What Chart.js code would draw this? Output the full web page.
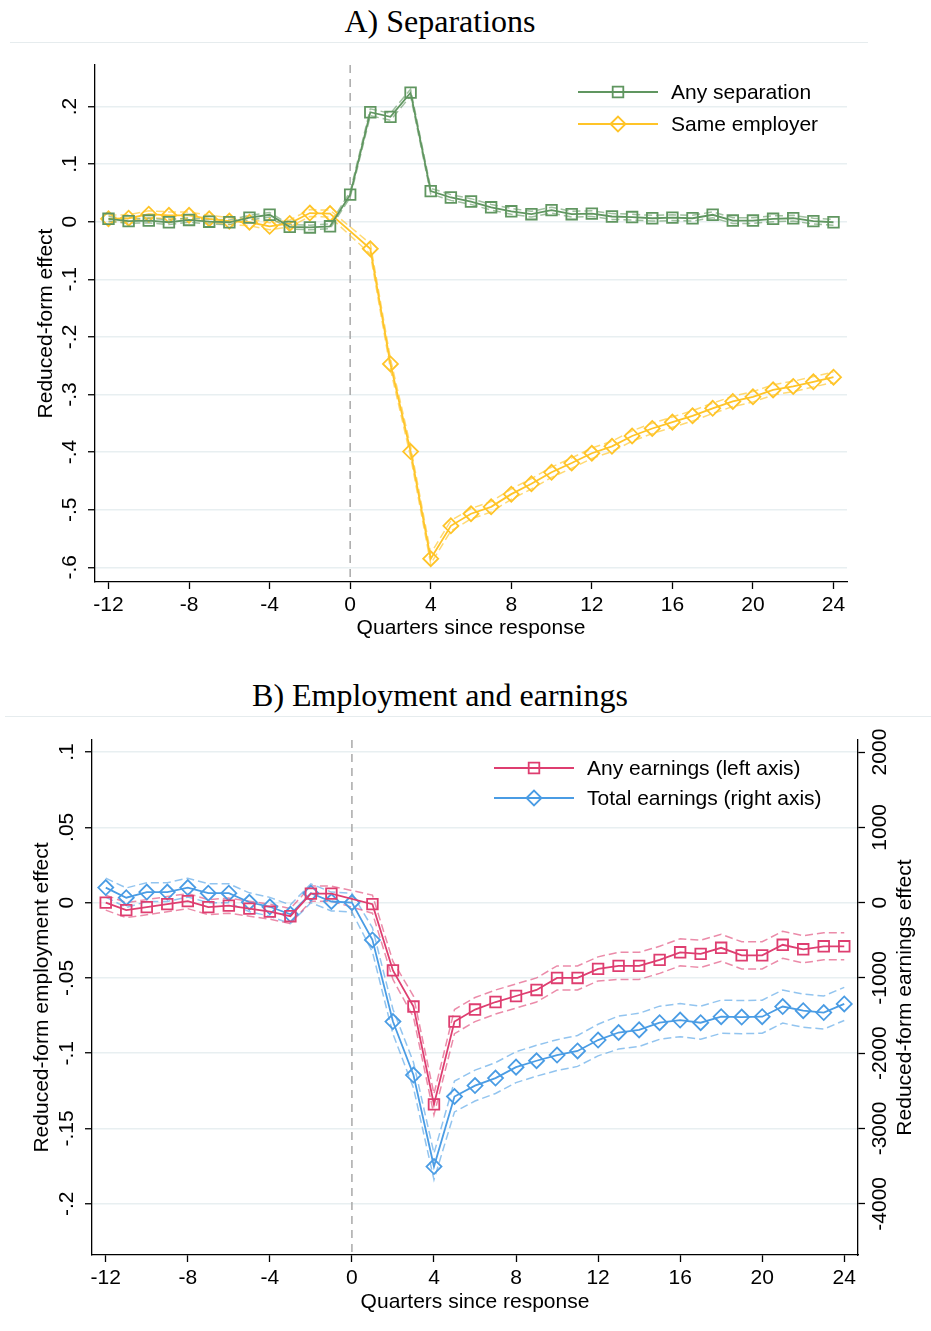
<!DOCTYPE html>
<html>
<head>
<meta charset="utf-8">
<script src="https://cdn.jsdelivr.net/npm/chart.js@4.4.1/dist/chart.umd.min.js"></script>
<style>
  body { margin: 0; background: #fff; width: 931px; height: 1331px; position: relative; overflow: hidden; }
  .ttl { position: absolute; left: 0; width: 880px; text-align: center; font-family: "Liberation Serif", "DejaVu Serif", serif; font-size: 32px; line-height: 36px; color: #000; }
  .rule { position: absolute; height: 0; border-top: 1px solid #e6ecee; }
  canvas { position: absolute; left: 0; }
</style>
</head>
<body>
<div class="ttl" style="top:3px">A) Separations</div>
<div class="rule" style="top:42px;left:10px;width:858px"></div>
<canvas id="sep" width="931" height="650" style="top:0"></canvas>

<div class="ttl" style="top:677px">B) Employment and earnings</div>
<div class="rule" style="top:716px;left:5px;width:926px"></div>
<canvas id="emp" width="931" height="671" style="top:660px"></canvas>

<script>
// quarters relative to the response
const quarters = [-12,-11,-10,-9,-8,-7,-6,-5,-4,-3,-2,-1,0,1,2,3,4,5,6,7,8,9,10,11,12,13,14,15,16,17,18,19,20,21,22,23,24];
const xTicks = [-12,-8,-4,0,4,8,12,16,20,24];

// panel A
const sepTicks = [0.2,0.1,0,-0.1,-0.2,-0.3,-0.4,-0.5,-0.6];
const sepTickLabels = ['.2','.1','0','-.1','-.2','-.3','-.4','-.5','-.6'];

const anySep   = [0.005,0.001,0.002,-0.001,0.003,0.000,-0.001,0.007,0.012,-0.009,-0.010,-0.008,0.047,0.190,0.182,0.224,0.053,0.042,0.035,0.025,0.018,0.013,0.020,0.013,0.014,0.009,0.008,0.006,0.007,0.006,0.012,0.002,0.002,0.005,0.006,0.001,-0.001];
const anySepLo = [0.001,-0.003,-0.002,-0.005,-0.001,-0.004,-0.005,0.003,0.008,-0.013,-0.014,-0.012,0.042,0.184,0.176,0.218,0.048,0.037,0.030,0.020,0.013,0.008,0.015,0.008,0.009,0.004,0.003,0.001,0.002,0.001,0.007,-0.003,-0.003,0.000,0.001,-0.004,-0.006];
const anySepHi = [0.009,0.005,0.006,0.003,0.007,0.004,0.003,0.011,0.016,-0.005,-0.006,-0.004,0.052,0.196,0.188,0.230,0.058,0.047,0.040,0.030,0.023,0.018,0.025,0.018,0.019,0.014,0.013,0.011,0.012,0.011,0.017,0.007,0.007,0.010,0.011,0.006,0.004];

const sameEmp   = [0.005,0.006,0.013,0.011,0.011,0.005,0.001,-0.001,-0.008,-0.003,0.015,0.014,null,-0.047,-0.247,-0.399,-0.585,-0.528,-0.507,-0.495,-0.473,-0.455,-0.435,-0.419,-0.402,-0.390,-0.372,-0.359,-0.348,-0.337,-0.324,-0.312,-0.304,-0.292,-0.286,-0.278,-0.270];
const sameEmpLo = [-0.001,0.000,0.007,0.005,0.005,-0.001,-0.005,-0.007,-0.014,-0.009,0.009,0.008,null,-0.056,-0.256,-0.408,-0.594,-0.537,-0.516,-0.504,-0.482,-0.464,-0.444,-0.428,-0.411,-0.399,-0.381,-0.368,-0.357,-0.346,-0.333,-0.321,-0.313,-0.301,-0.295,-0.287,-0.279];
const sameEmpHi = [0.011,0.012,0.019,0.017,0.017,0.011,0.007,0.005,-0.002,0.003,0.021,0.020,null,-0.038,-0.238,-0.390,-0.576,-0.519,-0.498,-0.486,-0.464,-0.446,-0.426,-0.410,-0.393,-0.381,-0.363,-0.350,-0.339,-0.328,-0.315,-0.303,-0.295,-0.283,-0.277,-0.269,-0.261];

// panel B
const empTicks = [0.1,0.05,0,-0.05,-0.1,-0.15,-0.2];
const empTickLabels = ['.1','.05','0','-.05','-.1','-.15','-.2'];
const earnTicks = [2000,1000,0,-1000,-2000,-3000,-4000];
const earnTickLabels = ['2000','1000','0','-1000','-2000','-3000','-4000'];

const anyEarn   = [0.000,-0.005,-0.003,-0.001,0.001,-0.003,-0.002,-0.004,-0.006,-0.009,0.006,0.006,null,-0.001,-0.045,-0.069,-0.134,-0.079,-0.071,-0.066,-0.062,-0.058,-0.050,-0.050,-0.044,-0.042,-0.042,-0.038,-0.033,-0.034,-0.030,-0.035,-0.035,-0.028,-0.031,-0.029,-0.029];
const anyEarnLo = [-0.005,-0.010,-0.008,-0.006,-0.004,-0.008,-0.007,-0.009,-0.011,-0.014,0.001,0.001,null,-0.007,-0.051,-0.076,-0.141,-0.087,-0.079,-0.074,-0.070,-0.066,-0.058,-0.058,-0.052,-0.051,-0.051,-0.047,-0.042,-0.043,-0.039,-0.044,-0.044,-0.037,-0.040,-0.038,-0.038];
const anyEarnHi = [0.005,0.000,0.002,0.004,0.006,0.002,0.003,0.001,-0.001,-0.004,0.011,0.011,null,0.005,-0.039,-0.062,-0.127,-0.071,-0.063,-0.058,-0.054,-0.050,-0.042,-0.042,-0.036,-0.033,-0.033,-0.029,-0.024,-0.025,-0.021,-0.026,-0.026,-0.019,-0.022,-0.020,-0.020];

const totEarn   = [200,65,140,140,200,125,125,5,-55,-155,125,15,0,-495,-1580,-2290,-3505,-2575,-2430,-2330,-2185,-2100,-2025,-1970,-1825,-1725,-1690,-1595,-1560,-1595,-1515,-1520,-1515,-1380,-1435,-1460,-1345];
const totEarnLo = [75,-65,15,15,75,0,0,-120,-180,-280,0,-110,-125,-655,-1745,-2460,-3680,-2780,-2635,-2535,-2390,-2305,-2230,-2175,-2035,-1945,-1910,-1815,-1780,-1815,-1735,-1740,-1735,-1600,-1655,-1680,-1565];
const totEarnHi = [325,195,265,265,325,250,250,130,70,-30,250,140,125,-335,-1415,-2120,-3330,-2370,-2225,-2125,-1980,-1895,-1820,-1765,-1615,-1505,-1470,-1375,-1340,-1375,-1295,-1300,-1295,-1160,-1215,-1240,-1125];

const SANS = '"Liberation Sans", Arial, Helvetica, sans-serif';
const GREEN = 'rgb(96,150,96)', GREEN_L = 'rgba(96,150,96,0.6)';
const YELLOW = 'rgb(255,196,40)', YELLOW_L = 'rgba(255,196,40,0.65)';
const PINK = 'rgb(222,62,112)', PINK_L = 'rgba(222,62,112,0.6)';
const BLUE = 'rgb(74,156,228)', BLUE_L = 'rgba(74,156,228,0.6)';

const pts = arr => quarters.map((q, i) => ({ x: q, y: arr[i] }));

function mainSet(label, arr, color, style, radius, axis) {
  return {
    label: label, data: pts(arr), yAxisID: axis,
    borderColor: color, borderWidth: 1.8, backgroundColor: 'rgba(0,0,0,0)',
    pointStyle: style, pointRadius: radius, pointBorderWidth: 1.8,
    pointBorderColor: color, pointBackgroundColor: 'rgba(0,0,0,0)',
    spanGaps: true, tension: 0
  };
}
function bandSet(arr, color, axis) {
  return {
    label: '', data: pts(arr), yAxisID: axis,
    borderColor: color, borderWidth: 1.5, borderDash: [8, 4],
    pointRadius: 0, spanGaps: true, tension: 0
  };
}

// dashed vertical line at the response quarter
const refLine = {
  id: 'refLine',
  beforeDatasetsDraw(chart, args, opts) {
    const { ctx, chartArea: a } = chart;
    const px = chart.scales.x.getPixelForValue(opts.value);
    ctx.save();
    ctx.strokeStyle = '#a9a9a9';
    ctx.lineWidth = 1.5;
    ctx.setLineDash([8, 6]);
    ctx.beginPath();
    ctx.moveTo(px, a.top);
    ctx.lineTo(px, a.bottom);
    ctx.stroke();
    ctx.restore();
  }
};

// stata-like rotated tick labels and axis titles
const rotTicks = {
  id: 'rotTicks',
  afterDraw(chart, args, opts) {
    const ctx = chart.ctx;
    const a = chart.chartArea;
    ctx.save();
    ctx.fillStyle = '#000';
    ctx.font = '21px ' + SANS;
    ctx.textAlign = 'center';
    ctx.textBaseline = 'middle';
    (opts.axes || []).forEach(ax => {
      const sc = chart.scales[ax.id];
      ax.values.forEach((v, i) => {
        ctx.save();
        ctx.translate(ax.x, sc.getPixelForValue(v));
        ctx.rotate(-Math.PI / 2);
        ctx.fillText(ax.labels[i], 0, 0);
        ctx.restore();
      });
      ctx.save();
      ctx.translate(ax.titleX, (a.top + a.bottom) / 2);
      ctx.rotate(-Math.PI / 2);
      ctx.fillText(ax.title, 0, 0);
      ctx.restore();
    });
    ctx.restore();
  }
};

// legend with line + marker samples
const lineLegend = {
  id: 'lineLegend',
  afterDatasetsDraw(chart, args, opts) {
    const ctx = chart.ctx;
    opts.items.forEach((idx, k) => {
      const ds = chart.data.datasets[idx];
      const y = opts.y + k * opts.gap;
      ctx.save();
      ctx.strokeStyle = ds.borderColor;
      ctx.lineWidth = 1.8;
      ctx.beginPath();
      ctx.moveTo(opts.x, y);
      ctx.lineTo(opts.x + 80, y);
      ctx.stroke();
      ctx.fillStyle = 'rgba(0,0,0,0)';
      Chart.helpers.drawPoint(ctx, { pointStyle: ds.pointStyle, radius: ds.pointRadius, borderWidth: 1.8, rotation: 0 }, opts.x + 40, y);
      ctx.fillStyle = '#000';
      ctx.font = '21px ' + SANS;
      ctx.textAlign = 'left';
      ctx.textBaseline = 'middle';
      ctx.fillText(ds.label, opts.x + 93, y + 1);
      ctx.restore();
    });
  }
};

function xScale(h, titlePad) {
  return {
    type: 'linear', min: -12.67, max: 24.67,
    afterBuildTicks: s => { s.ticks = xTicks.map(v => ({ value: v })); },
    afterFit: s => { s.height = h; },
    grid: { drawOnChartArea: false, tickLength: 7, tickColor: '#000', tickWidth: 1.3 },
    border: { color: '#000', width: 1.3 },
    ticks: { color: '#000', font: { family: SANS, size: 21 }, padding: 4, maxRotation: 0, autoSkip: false, callback: v => String(v) },
    title: { display: true, text: 'Quarters since response', color: '#000', font: { family: SANS, size: 21 }, padding: { top: 0, bottom: titlePad } }
  };
}

function yScale(pos, min, max, ticks, w, grid) {
  return {
    type: 'linear', position: pos, min: min, max: max,
    afterBuildTicks: s => { s.ticks = ticks.map(v => ({ value: v })); },
    afterFit: s => { s.width = w; },
    ticks: { display: false },
    grid: grid ? { color: '#e8eff1', lineWidth: 1.5, tickColor: '#000', tickLength: 7, tickWidth: 1.3 }
               : { drawOnChartArea: false, tickColor: '#000', tickLength: 7, tickWidth: 1.3 },
    border: { color: '#000', width: 1.3 }
  };
}

const baseOpts = { responsive: false, animation: false, events: [] };

new Chart(document.getElementById('sep'), {
  type: 'line',
  data: {
    datasets: [
      mainSet('Any separation', anySep, GREEN, 'rect', 7.5, 'y'),
      mainSet('Same employer', sameEmp, YELLOW, 'rectRot', 7.5, 'y'),
      bandSet(anySepLo, GREEN_L, 'y'),
      bandSet(anySepHi, GREEN_L, 'y'),
      bandSet(sameEmpLo, YELLOW_L, 'y'),
      bandSet(sameEmpHi, YELLOW_L, 'y')
    ]
  },
  options: Object.assign({}, baseOpts, {
    layout: { padding: { top: 65, right: 84, bottom: 0, left: 0 } },
    scales: {
      x: xScale(68, 9),
      y: yScale('left', -0.6255, 0.272, sepTicks, 95, true)
    },
    plugins: {
      legend: { display: false },
      tooltip: { enabled: false },
      refLine: { value: 0 },
      lineLegend: { items: [0, 1], x: 578, y: 92, gap: 32 },
      rotTicks: { axes: [{ id: 'y', values: sepTicks, labels: sepTickLabels, x: 70, title: 'Reduced-form effect', titleX: 46 }] }
    }
  }),
  plugins: [refLine, lineLegend, rotTicks]
});

new Chart(document.getElementById('emp'), {
  type: 'line',
  data: {
    datasets: [
      mainSet('Any earnings (left axis)', anyEarn, PINK, 'rect', 7.5, 'y'),
      mainSet('Total earnings (right axis)', totEarn, BLUE, 'rectRot', 7.5, 'y1'),
      bandSet(anyEarnLo, PINK_L, 'y'),
      bandSet(anyEarnHi, PINK_L, 'y'),
      bandSet(totEarnLo, BLUE_L, 'y1'),
      bandSet(totEarnHi, BLUE_L, 'y1')
    ]
  },
  options: Object.assign({}, baseOpts, {
    layout: { padding: { top: 80, right: 0, bottom: 0, left: 0 } },
    scales: {
      x: xScale(76, 16),
      y: yScale('left', -0.234, 0.108, empTicks, 92, true),
      y1: yScale('right', -4680, 2160, earnTicks, 73, false)
    },
    plugins: {
      legend: { display: false },
      tooltip: { enabled: false },
      refLine: { value: 0 },
      lineLegend: { items: [0, 1], x: 494, y: 108, gap: 30 },
      rotTicks: { axes: [
        { id: 'y', values: empTicks, labels: empTickLabels, x: 67, title: 'Reduced-form employment effect', titleX: 42 },
        { id: 'y1', values: earnTicks, labels: earnTickLabels, x: 880, title: 'Reduced-form earnings effect', titleX: 905 }
      ] }
    }
  }),
  plugins: [refLine, lineLegend, rotTicks]
});
</script>
</body>
</html>
